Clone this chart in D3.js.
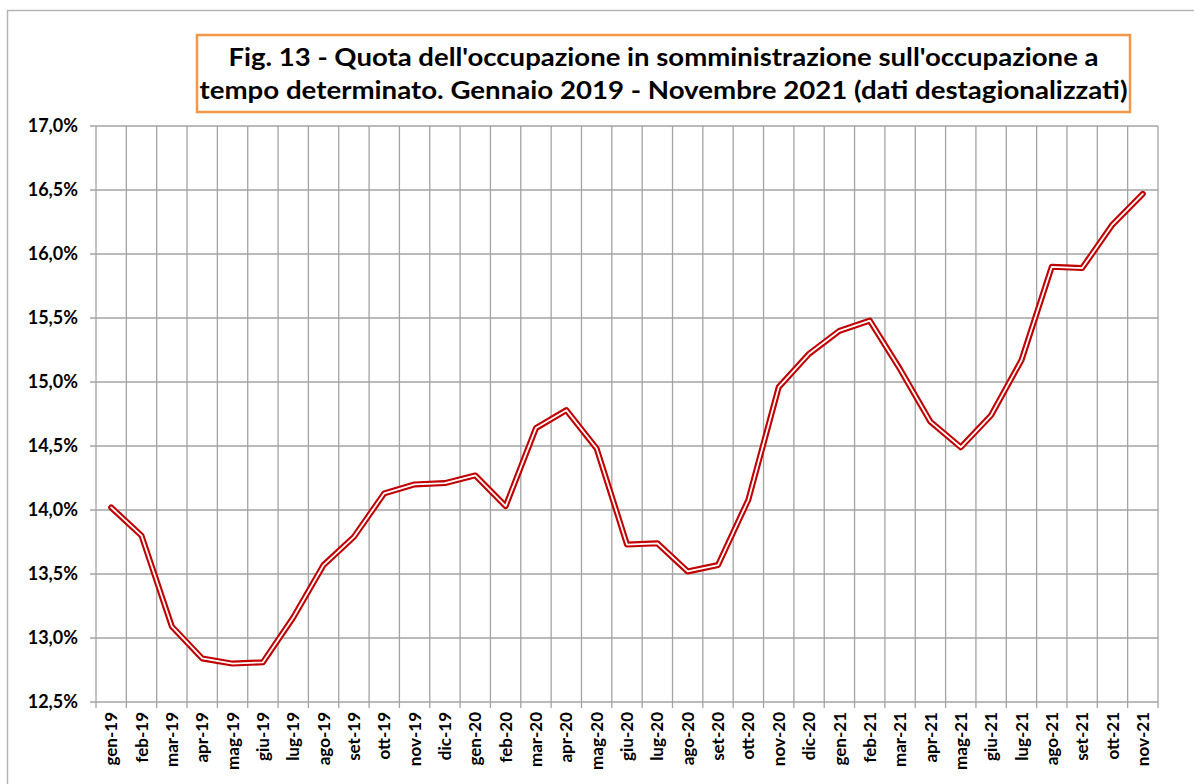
<!DOCTYPE html>
<html>
<head>
<meta charset="utf-8">
<script src="https://cdn.jsdelivr.net/npm/d3@7"></script>
<style>
  html, body { margin: 0; padding: 0; background: #fff; }
  svg { display: block; }
  text { font-family: Lato, "Open Sans", sans-serif; font-weight: 700; fill: #000; }
</style>
</head>
<body>
<svg id="chart" width="1194" height="784"></svg>
<script>
var width = 1194;
var height = 784;

// mesi (gen-19 .. nov-21)
var months = ["gen-19","feb-19","mar-19","apr-19","mag-19","giu-19","lug-19","ago-19","set-19","ott-19","nov-19","dic-19",
              "gen-20","feb-20","mar-20","apr-20","mag-20","giu-20","lug-20","ago-20","set-20","ott-20","nov-20","dic-20",
              "gen-21","feb-21","mar-21","apr-21","mag-21","giu-21","lug-21","ago-21","set-21","ott-21","nov-21"];

// quota % somministrazione su tempo determinato
var quota = [14.02, 13.80, 13.09, 12.84, 12.80, 12.81, 13.16, 13.57, 13.79, 14.13, 14.20, 14.21,
             14.27, 14.03, 14.64, 14.78, 14.48, 13.73, 13.74, 13.52, 13.57, 14.08, 14.96, 15.22,
             15.40, 15.48, 15.10, 14.69, 14.49, 14.74, 15.17, 15.90, 15.89, 16.23, 16.47];

var yTicks = [12.5, 13.0, 13.5, 14.0, 14.5, 15.0, 15.5, 16.0, 16.5, 17.0];

var titleLines = ["Fig. 13 - Quota dell'occupazione in somministrazione sull'occupazione a",
                  "tempo determinato. Gennaio 2019 - Novembre 2021 (dati destagionalizzati)"];

var svg = d3.select("#chart");

var plot = {left: 96, right: 1158, top: 126, bottom: 702};

var x = d3.scaleBand()
    .domain(months)
    .range([plot.left, plot.right])
    .padding(0);

var y = d3.scaleLinear()
    .domain([12.5, 17.0])
    .range([plot.bottom, plot.top]);

var fmt = function(d){ return d.toFixed(1).replace(".", ",") + "%"; };
var gridColor = "#a3a3a3";

// cornice esterna
svg.append("rect")
    .attr("x", 7.5).attr("y", 10.5)
    .attr("width", 1200).attr("height", 800)
    .attr("fill", "none")
    .attr("stroke", "#b4b4b4")
    .attr("stroke-width", 1.5);

// griglia orizzontale
svg.append("g")
    .selectAll("line")
    .data(yTicks)
    .enter()
    .append("line")
    .attr("x1", plot.left - 6)
    .attr("x2", plot.right)
    .attr("y1", function(d){ return y(d); })
    .attr("y2", function(d){ return y(d); })
    .attr("stroke", gridColor)
    .attr("stroke-width", 1.3);

// etichette asse y
svg.append("g")
    .selectAll("text")
    .data(yTicks)
    .enter()
    .append("text")
    .attr("x", 78)
    .attr("y", function(d){ return y(d); })
    .attr("dy", "0.36em")
    .attr("text-anchor", "end")
    .attr("font-size", "18px")
    .text(fmt);

// griglia verticale (confini delle categorie)
var bounds = months.map(function(m){ return x(m); }).concat([plot.right]);
svg.append("g")
    .selectAll("line")
    .data(bounds)
    .enter()
    .append("line")
    .attr("x1", function(d){ return d; })
    .attr("x2", function(d){ return d; })
    .attr("y1", plot.top)
    .attr("y2", plot.bottom + 6)
    .attr("stroke", gridColor)
    .attr("stroke-width", 1.3);

// etichette asse x
svg.append("g")
    .selectAll("text")
    .data(months)
    .enter()
    .append("text")
    .attr("transform", function(d){
        return "translate(" + (x(d) + x.bandwidth() / 2) + "," + (plot.bottom + 10) + ") rotate(-90)";
    })
    .attr("dy", "0.36em")
    .attr("text-anchor", "end")
    .attr("font-size", "17px")
    .text(function(d){ return d; });

// linea doppia
var line = d3.line()
    .x(function(d, i){ return x(months[i]) + x.bandwidth() / 2; })
    .y(function(d){ return y(d); });

svg.append("path")
    .datum(quota)
    .attr("d", line)
    .attr("fill", "none")
    .attr("stroke", "#c00000")
    .attr("stroke-width", 6)
    .attr("stroke-linejoin", "round")
    .attr("stroke-linecap", "round");

svg.append("path")
    .datum(quota)
    .attr("d", line)
    .attr("fill", "none")
    .attr("stroke", "#ffffff")
    .attr("stroke-width", 1.8)
    .attr("stroke-linejoin", "round")
    .attr("stroke-linecap", "round");

// titolo
svg.append("rect")
    .attr("x", 197).attr("y", 35)
    .attr("width", 933).attr("height", 77)
    .attr("fill", "#fff")
    .attr("stroke", "#f79646")
    .attr("stroke-width", 2.5);

var titleLen = [870, 928];
svg.append("g")
    .selectAll("text")
    .data(titleLines)
    .enter()
    .append("text")
    .attr("x", 663.5)
    .attr("y", function(d, i){ return 66 + i * 33; })
    .attr("text-anchor", "middle")
    .attr("font-size", "25px")
    .attr("textLength", function(d, i){ return titleLen[i]; })
    .attr("lengthAdjust", "spacingAndGlyphs")
    .text(function(d){ return d; });
</script>
</body>
</html>
